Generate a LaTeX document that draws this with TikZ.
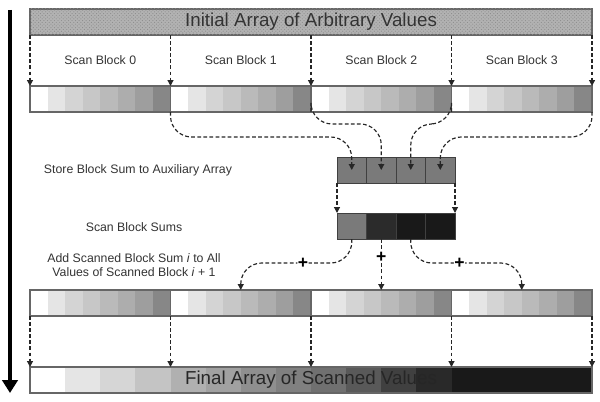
\documentclass[tikz,border=0pt]{standalone}
\usepackage{fontspec}
\setmainfont{Liberation Sans}
\usetikzlibrary{positioning, arrows.meta, calc, patterns}

\begin{document}
\begin{tikzpicture}[
        x=0.03cm, y=-0.03cm,
        every node/.style={inner sep=0pt, outer sep=0pt},
        cellrow/.style={draw=black!60, line width=0.9pt, minimum width=4.215cm, minimum height=0.78cm},
        bigbar/.style={draw=black!60, line width=0.9pt, minimum width=16.86cm, minimum height=0.78cm, font=\fontsize{16}{19}\selectfont},
        sumcell/.style={draw=black!75, line width=0.8pt, minimum width=0.885cm, minimum height=0.78cm},
        steptext/.style={text=black!80, font=\fontsize{10.5}{12}\selectfont, align=center},
        link/.style={draw=black!85, line width=1pt, dash pattern=on 3.2pt off 2pt, -{Triangle[width=5pt,length=5pt]}},
        plus/.style={fill=white, inner sep=0.4pt, font=\bfseries\fontsize{15}{15}\selectfont}
    ]
    \useasboundingbox (0,0) rectangle (600,402);

    % time runs downwards
    \coordinate (tstart) at (10,10);
    \coordinate (tend) at (10,393);
    \draw[line width=2.8pt, -{Triangle[width=13pt,length=11pt]}] (tstart) -- (tend);

    % input
    \node[bigbar, fill=black!30, postaction={pattern=crosshatch dots, pattern color=black!45}, text=black!80] (init) at (311,22) {Initial Array of Arbitrary Values};

    % shaded blocks, first and second pass
    \foreach \r in {86,290}
        \foreach \b in {0,...,3}
            \foreach \s [count=\i from 0] in {0,10,17,22,27,32,38,47}
                \fill[black!\s] ({30+140.5*\b+17.5625*\i},\r) rectangle ++(18,26);

    \foreach \b in {0,...,3} {
        \node[steptext] (lab\b) at ({100.25+140.5*\b},60) {Scan Block \b};
        \node[cellrow] (b\b) at ({100.25+140.5*\b},99) {};
        \node[cellrow] (c\b) at ({100.25+140.5*\b},303) {};
        \draw[link] (b\b.north west |- init.south) -- (b\b.north west);
    }
    \draw[link] (b3.north east |- init.south) -- (b3.north east);

    % auxiliary array and its scan
    \foreach \c in {0,...,3}
        \node[sumcell, fill=black!52] (a\c) at ({351.75+29.5*\c},170) {};
    \foreach \c/\s in {0/52,1/83,2/90,3/90}
        \node[sumcell, fill=black!\s] (s\c) at ({351.75+29.5*\c},226) {};

    \draw[link, rounded corners=18] (b0.south east) |- ($(a0.north)+(0,-20)$) -- (a0.center);
    \draw[link, rounded corners=18] (b1.south east) |- ($(a1.north)+(0,-33)$) -- (a1.center);
    \draw[link, rounded corners=18] (b2.south east) |- ($(a2.north)+(0,-33)$) -- (a2.center);
    \draw[link, rounded corners=18] (b3.south east) |- ($(a3.north)+(0,-20)$) -- (a3.center);

    \draw[link] (a0.south west) -- (s0.north west);
    \draw[link] (a3.south east) -- (s3.north east);

    % add sums back
    \draw[link, rounded corners=18] (s0.south) |- node[plus, pos=0.72] {+} ($(c1.north)+(0,-27)$) -- (c1.north);
    \draw[link] (s1.south) -- node[plus, pos=0.35] {+} (c2.north);
    \draw[link, rounded corners=18] (s2.south) |- node[plus, pos=0.72] {+} ($(c3.north)+(0,-27)$) -- (c3.north);

    % result
    \foreach \s [count=\i from 0] in {0,10,16,23,31,37,44,50,56,65,75,84,90,90,90,90}
        \fill[black!\s] ({30+35.125*\i},367) rectangle ++(35.6,26);
    \node[bigbar, text=black!85] (fin) at (311,380) {Final Array of Scanned Values};

    \foreach \b in {0,...,3}
        \draw[link] (c\b.south west) -- (c\b.south west |- fin.north);
    \draw[link] (c3.south east) -- (c3.south east |- fin.north);

    \node[steptext] (storelab) at (138,170) {Store Block Sum to Auxiliary Array};
    \node[steptext] (scanlab) at (134,227) {Scan Block Sums};
    \node[steptext] (addlab) at (134,265) {Add Scanned Block Sum \textit{i} to All\\Values of Scanned Block \textit{i} + 1};
\end{tikzpicture}
\end{document}
